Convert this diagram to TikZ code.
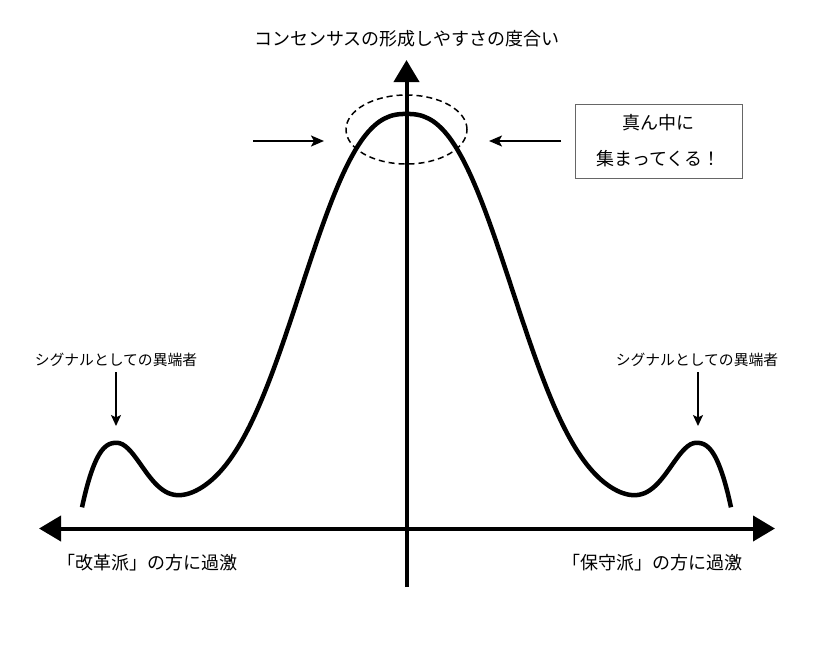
\documentclass[tikz,border=0pt]{standalone}
\usepackage{fontspec}
\setmainfont{Noto Sans CJK JP}
\usetikzlibrary{arrows.meta,shapes.geometric}
\tikzset{
  declare function={
    mainf(\u)=391*exp(-min(pow(abs(\u)/130,2.5),12));
    innerb(\u)=62*exp(-min(pow(abs(290-abs(\u))/36,2),12));
    outerb(\u)=62*(1-pow(abs(abs(\u)-290)/34,2.5));
    bumpf(\u)=(abs(\u)<290) ? innerb(\u) : outerb(\u);
  },
  axis/.style={line width=4pt, -{Triangle[length=22pt,width=25pt]}},
  curve/.style={line width=4.5pt, line join=round},
  inarrow/.style={line width=2pt, -{Stealth[length=13pt,width=11pt,inset=3pt]}},
  sigarrow/.style={line width=1.6pt, -{Stealth[length=11pt,width=10pt,inset=2.5pt]}},
  biglabel/.style={font=\fontsize{18}{22}\selectfont, inner sep=0pt},
  smalllabel/.style={font=\fontsize{14.8}{18}\selectfont, inner sep=0pt},
  msgbox/.style={draw=black!60, line width=1pt, minimum width=167pt, minimum height=74pt, align=center, font=\fontsize{18}{36}\selectfont, inner sep=0pt},
  ring/.style={line width=1.5pt, dash pattern=on 6pt off 4pt}
}
\begin{document}
\begin{tikzpicture}[x=1pt,y=-1pt]
\useasboundingbox (0,0) rectangle (827,657);
% axes
\coordinate (vbot) at (406.5,587);
\coordinate (vtop) at (406.5,60);
\coordinate (hleft) at (39,528.5);
\coordinate (hright) at (775,528.5);
\coordinate (hmid) at (406.5,528.5);
\draw[axis] (hmid) -- (hleft);
\draw[axis] (hmid) -- (hright);
\draw[axis] (vbot) -- (vtop);
% curve
\draw[curve] plot[domain=-324.5:324.5, samples=241, variable=\u, smooth]
  ({406.5+\u}, {505-mainf(\u)-bumpf(\u)});
% dashed ring
\node[ring, draw, ellipse, minimum width=121pt, minimum height=69pt, inner sep=0pt] (ring) at (406.5,129.5) {};
% title
\node[biglabel] (title) at (407,39) {コンセンサスの形成しやすさの度合い};
% message box
\node[msgbox] (box) at (658.5,141) {真ん中に\\集まってくる！};
% inward arrows
\coordinate (inL0) at (253,141);
\coordinate (inL1) at (324,141);
\coordinate (inR0) at (561,141);
\coordinate (inR1) at (489,141);
\draw[inarrow] (inL0) -- (inL1);
\draw[inarrow] (inR0) -- (inR1);
% heretic labels
\node[smalllabel] (sigL) at (116,360) {シグナルとしての異端者};
\node[smalllabel] (sigR) at (697,360) {シグナルとしての異端者};
\coordinate (sigLb) at (116,372);
\coordinate (sigRb) at (698,372);
\coordinate (bumpL) at (116,426);
\coordinate (bumpR) at (698,426);
\draw[sigarrow] (sigLb) -- (bumpL);
\draw[sigarrow] (sigRb) -- (bumpR);
% bottom labels
\node[biglabel] (leftlab) at (147,563) {「改革派」の方に過激};
\node[biglabel] (rightlab) at (652,563) {「保守派」の方に過激};
\end{tikzpicture}
\end{document}
